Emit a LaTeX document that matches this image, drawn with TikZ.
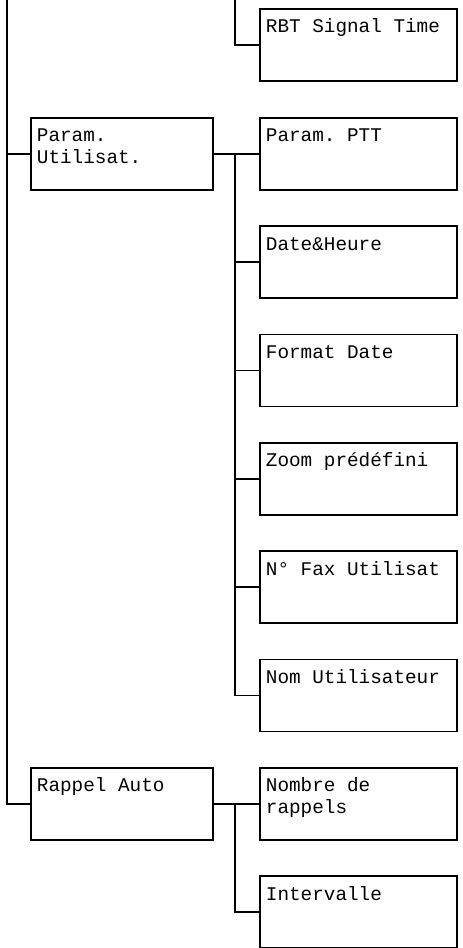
\documentclass[tikz,border=0pt]{standalone}
\usepackage{fontspec}
\setmonofont{Liberation Mono}
\usepackage{tikz}
\usetikzlibrary{positioning, calc}

\newcommand{\boxtext}[2]{%
    \parbox[t][54pt][t]{#1}{\raggedright\rule{0pt}{18pt}#2}}

\tikzset{
    menubox/.style={draw, line width=1.4pt, anchor=north west,
        inner xsep=4.5pt, inner ysep=0pt,
        font=\ttfamily\fontsize{14.5}{16.5}\selectfont},
    link/.style={line width=1.4pt},
}

\begin{document}
\begin{tikzpicture}[x=0.75pt, y=-0.75pt]
    \useasboundingbox (0,0) rectangle (462,948);
    \coordinate (maintop) at (7,0);
    \coordinate (rbttop) at (235,0);

    % first level
    \node[menubox] (param) at (30,117) {\boxtext{127.5pt}{Param.\\Utilisat.}};
    \node[menubox] (rappel) at (30,766.8) {\boxtext{127.5pt}{Rappel Auto}};

    % second level
    \node[menubox] (rbt) at (259,8) {\boxtext{138.75pt}{RBT Signal Time}};
    \node[menubox] (ptt) at (259,117) {\boxtext{138.75pt}{Param. PTT}};
    \node[menubox] (date) at (259,225.3) {\boxtext{138.75pt}{Date\&Heure}};
    \node[menubox] (format) at (259,333.6) {\boxtext{138.75pt}{Format Date}};
    \node[menubox] (zoom) at (259,441.9) {\boxtext{138.75pt}{Zoom prédéfini}};
    \node[menubox] (fax) at (259,550.2) {\boxtext{138.75pt}{N° Fax Utilisat}};
    \node[menubox] (nom) at (259,658.5) {\boxtext{138.75pt}{Nom Utilisateur}};
    \node[menubox] (nombre) at (259,766.8) {\boxtext{138.75pt}{Nombre de\\rappels}};
    \node[menubox] (interv) at (259,875.1) {\boxtext{138.75pt}{Intervalle}};

    \coordinate (busA) at (param.east -| rbttop);
    \coordinate (busB) at (rappel.east -| rbttop);

    \draw[link] (maintop) |- (rappel.west);
    \draw[link] (param.west) -- (param.west -| maintop);
    \draw[link] (rbttop) |- (rbt.west);

    \draw[link] (param.east) -- (ptt.west);
    \foreach \n in {date,format,zoom,fax,nom}
        \draw[link] (\n.west) -| (busA);

    \draw[link] (rappel.east) -- (nombre.west);
    \draw[link] (interv.west) -| (busB);
\end{tikzpicture}
\end{document}
